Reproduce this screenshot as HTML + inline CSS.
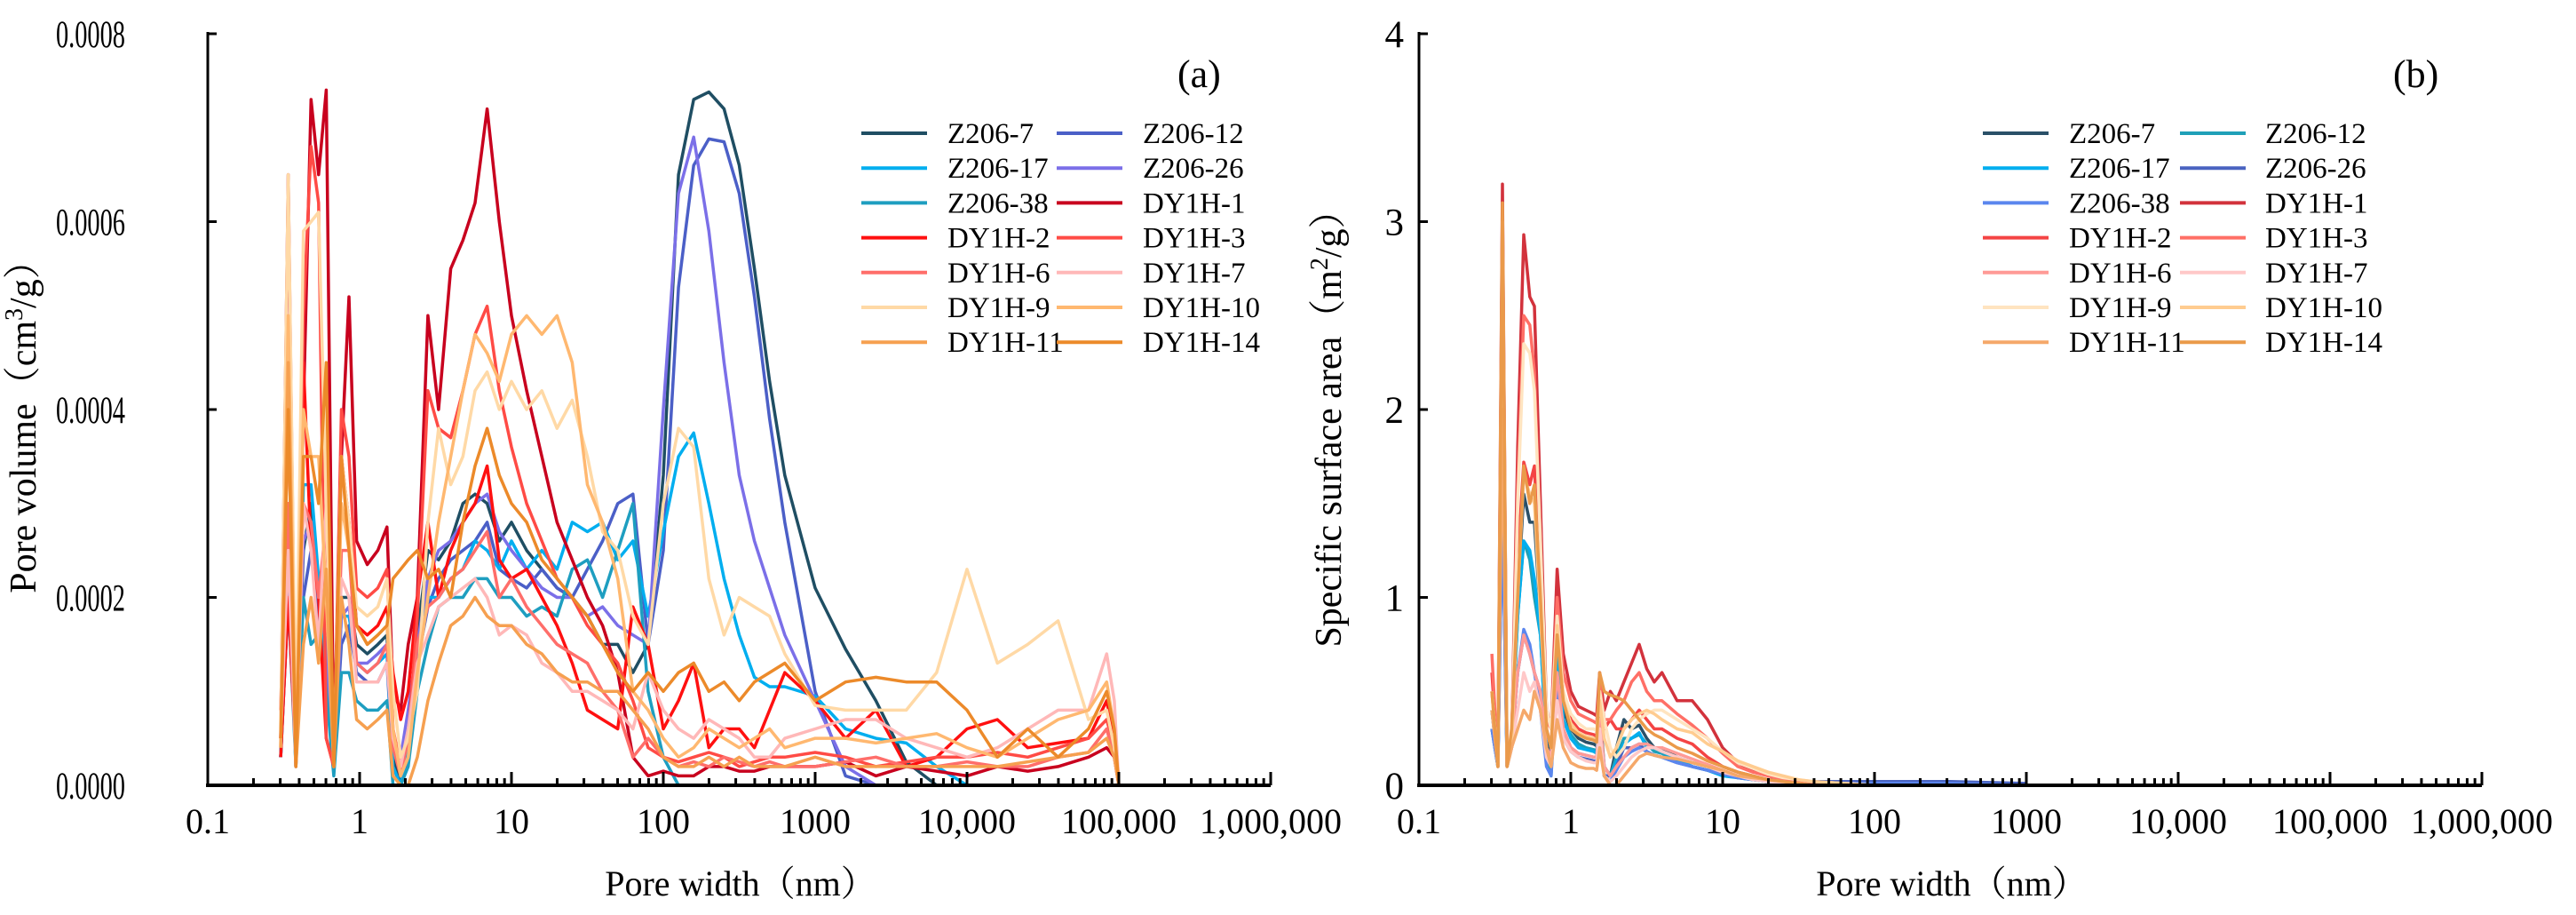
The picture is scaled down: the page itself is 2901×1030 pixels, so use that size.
<!DOCTYPE html>
<html><head><meta charset="utf-8"><style>
html,body{margin:0;padding:0;background:#fff;}
svg{display:block;}
text{font-family:"Liberation Serif","Noto Serif CJK SC",serif;fill:#000;}
</style></head><body>
<svg id="chart" width="2901" height="1030" viewBox="0 0 2901 1030" xmlns="http://www.w3.org/2000/svg">
<g id="panelA"></g>
<g id="panelB"></g>
</svg>
<script>
// ---------- shared data ----------
const seriesNames = ["Z206-7","Z206-12","Z206-17","Z206-26","Z206-38","DY1H-1","DY1H-2","DY1H-3","DY1H-6","DY1H-7","DY1H-9","DY1H-10","DY1H-11","DY1H-14"];
const xTickValues = [0.1,1,10,100,1000,10000,100000,1000000];
const xTickLabels = ["0.1","1","10","100","1000","10,000","100,000","1,000,000"];
const yTicksA = [0,0.0002,0.0004,0.0006,0.0008];
const yTickLabelsA = ["0.0000","0.0002","0.0004","0.0006","0.0008"];
const yTicksB = [0,1,2,3,4];
const yTickLabelsB = ["0","1","2","3","4"];

const colorsA = ["#1f4e63","#4b5fc7","#00aeef","#7b6fe8","#1e9ec0","#c8001e","#ff1010","#ff4b45","#ff6e6a","#ffb8b8","#ffd9a6","#ffb870","#f6a050","#ec8a2a"];
const colorsB = ["#2a5068","#1fa0b8","#00aeef","#4a63c0","#5b86ee","#d2323c","#f44444","#ff6f66","#ff9a96","#ffc8c8","#ffe4c0","#ffcc90","#f5a86a","#ea9a4a"];

// panel (a): x grid in log10(nm); values in 1e-4 cm3/g
const gridA = [-0.52,-0.47,-0.42,-0.37,-0.32,-0.27,-0.22,-0.17,-0.12,-0.07,-0.02,0.05,0.12,0.18,0.22,0.27,0.32,0.38,0.45,0.52,0.6,0.68,0.76,0.84,0.92,1.0,1.1,1.2,1.3,1.4,1.5,1.6,1.7,1.8,1.9,2.0,2.1,2.2,2.3,2.4,2.5,2.6,2.7,2.8,3.0,3.2,3.4,3.6,3.8,4.0,4.2,4.4,4.6,4.8,4.92,4.97,5.0];
const a_Z206_7 = [0.3,2.5,0.3,2.5,3.0,2.0,1.5,0.2,2.0,2.0,1.5,1.4,1.5,1.6,0.3,0,0.3,1.6,2.5,2.4,2.6,3.0,3.1,3.0,2.6,2.8,2.5,2.3,2.1,2.0,1.8,1.5,1.5,1.2,1.5,3.3,6.5,7.3,7.38,7.2,6.6,5.5,4.3,3.3,2.1,1.45,0.9,0.25,0,0,0,0,0,0,0,0,0];
const a_Z206_12 = [0.3,2.0,0.3,2.0,2.5,1.8,1.2,0.2,1.5,1.7,1.2,1.1,1.1,1.3,0.2,0,0.3,1.3,1.9,2.2,2.4,2.5,2.6,2.8,2.3,2.2,2.1,2.3,2.1,2.0,2.3,2.6,3.0,3.1,1.5,2.5,5.3,6.6,6.88,6.85,6.3,5.2,3.9,2.8,1.0,0.1,0,0,0,0,0,0,0,0,0,0,0];
const a_Z206_17 = [0.3,2.5,0.2,3.2,3.2,2.2,1.2,0.2,1.8,1.8,1.3,1.2,1.3,1.4,0.2,0,0.4,1.5,2.0,2.0,2.2,2.3,2.6,2.5,2.3,2.6,2.3,2.5,2.3,2.8,2.7,2.8,2.4,2.6,1.8,2.7,3.5,3.75,3.0,2.2,1.6,1.15,1.05,1.05,0.95,0.6,0.5,0.45,0.2,0,0,0,0,0,0,0,0];
const a_Z206_26 = [0.3,2.2,0.3,2.6,2.8,2.0,1.5,0.2,1.8,1.9,1.3,1.3,1.4,1.5,0.5,0.3,0.8,1.5,2.2,2.5,2.6,2.8,3.0,3.1,2.7,2.5,2.3,2.1,2.0,2.0,1.8,1.9,1.7,1.6,1.5,4.0,6.3,6.9,5.9,4.5,3.3,2.6,2.1,1.6,0.9,0.2,0,0,0,0,0,0,0,0,0,0,0];
const a_Z206_38 = [0.3,2.0,0.2,2.0,1.5,1.6,1.0,0.1,1.2,1.2,0.9,0.8,0.8,0.9,0,0,0.2,1.0,1.5,1.9,2.0,2.0,2.2,2.2,2.0,2.0,1.8,1.9,1.8,2.3,2.4,2.0,2.5,3.0,1.0,0.3,0,0,0,0,0,0,0,0,0,0,0,0,0,0,0,0,0,0,0,0,0];
const a_DY1H_1 = [0.5,6.5,0.2,4.0,7.3,6.5,7.4,0.3,3.5,5.2,2.6,2.35,2.5,2.75,1.0,0.8,1.5,2.0,5.0,4.0,5.5,5.8,6.2,7.2,6.0,5.0,4.2,3.5,2.8,2.4,2.0,1.7,1.2,0.3,0.1,0.15,0.1,0.1,0.2,0.2,0.15,0.15,0.2,0.2,0.2,0.25,0.1,0.2,0.15,0.1,0.2,0.15,0.2,0.3,0.4,0.3,0];
const a_DY1H_2 = [0.3,2.0,0.3,4.5,2.5,2.0,0.5,0.2,3.5,2.8,1.7,1.6,1.7,1.9,1.2,0.7,1.0,2.0,2.8,2.0,2.5,2.8,3.0,3.4,2.4,2.2,2.3,2.0,1.7,1.3,0.8,0.7,0.6,1.9,1.5,0.6,0.9,1.3,0.4,0.6,0.6,0.4,0.8,1.2,0.9,0.5,0.8,0.2,0.3,0.6,0.7,0.4,0.45,0.5,0.9,0.5,0];
const a_DY1H_3 = [0.8,4.0,0.3,5.0,6.8,6.2,0.5,0.2,4.0,3.5,2.1,2.0,2.1,2.3,0.6,0.2,0.5,1.8,4.2,3.8,3.7,4.2,4.8,5.1,4.2,3.6,3.0,2.6,2.2,2.0,1.7,1.5,1.3,0.9,0.4,0.3,0.25,0.3,0.35,0.3,0.2,0.25,0.3,0.3,0.35,0.3,0.2,0.25,0.3,0.3,0.35,0.3,0.4,0.5,0.7,0.4,0];
const a_DY1H_6 = [0.5,3.0,0.2,3.0,2.8,2.0,2.8,0.2,2.5,2.5,1.3,1.2,1.3,1.5,0.4,0.1,0.5,1.5,1.9,2.0,2.2,2.3,2.5,2.7,2.0,2.2,1.9,1.7,1.5,1.4,1.3,1.0,0.8,0.3,0.5,0.3,0.2,0.25,0.2,0.3,0.25,0.2,0.25,0.2,0.2,0.25,0.3,0.2,0.2,0.25,0.2,0.2,0.3,0.35,0.6,0.3,0];
const a_DY1H_7 = [0.5,2.5,0.2,3.0,2.5,1.5,3.0,0.3,2.2,2.0,1.1,1.1,1.1,1.3,0.5,0.2,0.6,1.3,1.6,1.9,2.0,2.1,2.2,2.0,1.6,1.7,1.6,1.3,1.2,1.0,1.0,0.9,0.8,0.6,1.2,0.8,0.6,0.5,0.7,0.6,0.5,0.3,0.3,0.5,0.6,0.7,0.7,0.5,0.4,0.3,0.4,0.6,0.8,0.8,1.4,0.9,0];
const a_DY1H_9 = [0.6,6.5,0.5,5.9,6.0,6.1,3.0,0.2,3.5,2.8,1.9,1.8,1.9,2.2,1.0,0.3,0.5,1.0,2.8,3.8,3.2,3.5,4.2,4.4,4.0,4.3,4.0,4.2,3.8,4.1,3.5,2.7,2.5,1.8,1.5,3.0,3.8,3.6,2.2,1.6,2.0,1.9,1.8,1.4,0.85,0.8,0.8,0.8,1.2,2.3,1.3,1.5,1.75,0.7,0.8,0.4,0];
const a_DY1H_10 = [0.4,5.0,0.3,4.0,3.5,3.5,2.0,0.2,3.0,2.5,1.7,1.5,1.6,1.7,0.6,0.1,0.3,1.2,2.0,2.8,3.5,4.2,4.8,4.6,4.3,4.8,5.0,4.8,5.0,4.5,3.2,2.8,2.2,1.0,0.8,0.5,0.3,0.4,0.6,0.5,0.4,0.5,0.6,0.4,0.5,0.5,0.45,0.5,0.55,0.4,0.3,0.5,0.7,0.8,1.1,0.6,0];
const a_DY1H_11 = [0.4,4.5,0.2,1.5,2.0,1.3,2.3,0.2,2.0,1.5,0.7,0.6,0.7,0.8,0.1,0,0,0.3,0.9,1.3,1.7,1.8,2.0,1.8,1.7,1.7,1.5,1.4,1.2,1.1,1.1,1.0,1.0,0.8,0.6,0.3,0.2,0.2,0.3,0.2,0.3,0.2,0.2,0.2,0.3,0.2,0.2,0.2,0.2,0.2,0.2,0.25,0.3,0.35,0.5,0.3,0];
const a_DY1H_14 = [0.5,4.0,0.2,3.5,3.5,3.0,4.5,0.2,3.5,2.5,1.7,1.5,1.6,1.7,2.2,2.3,2.4,2.5,2.2,2.3,2.0,2.8,3.4,3.8,3.3,3.0,2.8,2.4,2.2,2.0,1.8,1.5,1.2,1.0,1.2,1.0,1.2,1.3,1.0,1.1,0.9,1.1,1.2,1.3,0.9,1.1,1.15,1.1,1.1,0.8,0.3,0.6,0.3,0.6,1.0,0.6,0];
const valuesA = [a_Z206_7,a_Z206_12,a_Z206_17,a_Z206_26,a_Z206_38,a_DY1H_1,a_DY1H_2,a_DY1H_3,a_DY1H_6,a_DY1H_7,a_DY1H_9,a_DY1H_10,a_DY1H_11,a_DY1H_14];

// panel (b): x grid in log10(nm); values in m2/g
const gridB = [-0.52,-0.48,-0.45,-0.42,-0.39,-0.35,-0.31,-0.27,-0.24,-0.2,-0.16,-0.13,-0.09,-0.05,0,0.05,0.1,0.15,0.17,0.19,0.22,0.26,0.3,0.35,0.4,0.45,0.5,0.55,0.6,0.7,0.8,0.9,1.0,1.1,1.2,1.3,1.4,1.5,1.6,1.8,2.0,2.5,3.0];
const b_Z206_7 = [0.4,0.1,2.0,0.1,0.2,1.0,1.55,1.4,1.4,0.9,0.25,0.1,0.75,0.4,0.3,0.25,0.23,0.22,0.21,0.4,0.1,0.05,0.2,0.35,0.3,0.32,0.25,0.2,0.2,0.15,0.12,0.1,0.07,0.05,0.03,0.02,0.01,0,0,0,0,0,0];
const b_Z206_12 = [0.4,0.1,1.9,0.1,0.2,0.9,1.3,1.2,1.0,0.8,0.2,0.05,0.7,0.35,0.27,0.22,0.2,0.19,0.18,0.35,0.05,0.05,0.15,0.25,0.25,0.27,0.22,0.18,0.17,0.13,0.1,0.08,0.06,0.04,0.03,0.02,0.01,0,0,0,0,0,0];
const b_Z206_17 = [0.3,0.1,1.8,0.1,0.2,0.9,1.3,1.25,1.1,0.8,0.2,0.1,0.7,0.35,0.25,0.2,0.19,0.18,0.17,0.35,0.05,0.05,0.12,0.22,0.25,0.28,0.2,0.2,0.18,0.14,0.1,0.08,0.05,0.04,0.03,0.02,0.01,0.01,0.01,0.01,0.01,0,0];
const b_Z206_26 = [0.3,0.1,1.5,0.1,0.2,0.6,0.8,0.7,0.6,0.5,0.15,0.1,0.5,0.25,0.18,0.15,0.14,0.13,0.13,0.3,0.05,0.05,0.1,0.2,0.2,0.22,0.18,0.16,0.15,0.12,0.1,0.08,0.06,0.05,0.04,0.03,0.03,0.02,0.02,0.02,0.02,0.02,0.01];
const b_Z206_38 = [0.3,0.1,1.5,0.1,0.2,0.6,0.83,0.75,0.6,0.4,0.1,0.05,0.55,0.3,0.2,0.17,0.16,0.15,0.15,0.35,0.05,0.02,0.08,0.15,0.18,0.2,0.18,0.16,0.15,0.12,0.1,0.08,0.06,0.04,0.03,0.02,0.02,0.01,0.01,0.01,0.01,0.01,0];
const b_DY1H_1 = [0.5,0.2,3.2,0.1,0.2,1.8,2.93,2.6,2.55,1.5,0.4,0.3,1.15,0.7,0.5,0.42,0.4,0.38,0.37,0.6,0.4,0.5,0.45,0.55,0.65,0.75,0.62,0.55,0.6,0.45,0.45,0.35,0.2,0.12,0.08,0.05,0.03,0.02,0.01,0,0,0,0];
const b_DY1H_2 = [0.6,0.1,2.9,0.1,0.2,1.2,1.72,1.6,1.7,1.0,0.3,0.2,0.85,0.5,0.35,0.3,0.28,0.27,0.26,0.5,0.3,0.35,0.3,0.3,0.35,0.4,0.35,0.3,0.3,0.25,0.22,0.15,0.1,0.07,0.05,0.03,0.02,0.01,0,0,0,0,0];
const b_DY1H_3 = [0.7,0.1,3.0,0.1,0.2,1.6,2.5,2.45,2.2,1.3,0.35,0.3,1.0,0.6,0.45,0.38,0.36,0.34,0.33,0.55,0.35,0.35,0.4,0.45,0.55,0.6,0.5,0.45,0.45,0.38,0.32,0.25,0.17,0.1,0.07,0.05,0.03,0.02,0.01,0,0,0,0];
const b_DY1H_6 = [0.5,0.1,2.7,0.1,0.2,0.6,0.8,0.7,0.6,0.5,0.2,0.15,0.6,0.3,0.2,0.17,0.16,0.15,0.15,0.35,0.1,0.05,0.1,0.15,0.2,0.22,0.22,0.2,0.2,0.17,0.14,0.11,0.08,0.05,0.04,0.03,0.02,0.01,0,0,0,0,0];
const b_DY1H_7 = [0.4,0.1,2.2,0.1,0.2,0.4,0.6,0.5,0.55,0.4,0.15,0.1,0.45,0.25,0.18,0.15,0.13,0.12,0.12,0.3,0.05,0.02,0.05,0.1,0.15,0.18,0.2,0.2,0.18,0.15,0.12,0.1,0.07,0.05,0.03,0.02,0.01,0,0,0,0,0,0];
const b_DY1H_9 = [0.5,0.1,3.0,0.1,0.2,1.5,2.35,2.3,2.1,1.3,0.4,0.3,0.9,0.5,0.38,0.33,0.3,0.3,0.29,0.5,0.35,0.2,0.15,0.2,0.3,0.35,0.38,0.4,0.4,0.35,0.3,0.25,0.18,0.12,0.09,0.06,0.04,0.03,0.02,0.01,0,0,0];
const b_DY1H_10 = [0.5,0.1,2.9,0.1,0.2,1.0,1.65,1.55,1.5,0.9,0.3,0.2,0.85,0.45,0.33,0.28,0.26,0.25,0.24,0.45,0.25,0.15,0.2,0.3,0.35,0.38,0.4,0.38,0.35,0.3,0.28,0.22,0.18,0.13,0.1,0.07,0.05,0.03,0.02,0.01,0,0,0];
const b_DY1H_11 = [0.4,0.1,2.0,0.1,0.2,0.3,0.4,0.35,0.5,0.4,0.2,0.1,0.35,0.2,0.12,0.1,0.09,0.09,0.08,0.2,0.05,0,0,0.05,0.1,0.15,0.17,0.16,0.15,0.14,0.12,0.1,0.08,0.05,0.04,0.03,0.02,0.01,0,0,0,0,0];
const b_DY1H_14 = [0.5,0.1,3.1,0.1,0.3,1.0,1.7,1.5,1.6,1.0,0.3,0.2,0.8,0.45,0.3,0.27,0.25,0.24,0.23,0.6,0.5,0.48,0.47,0.45,0.4,0.35,0.3,0.27,0.25,0.2,0.17,0.13,0.1,0.07,0.05,0.03,0.02,0.01,0,0,0,0,0];
const valuesB = [b_Z206_7,b_Z206_12,b_Z206_17,b_Z206_26,b_Z206_38,b_DY1H_1,b_DY1H_2,b_DY1H_3,b_DY1H_6,b_DY1H_7,b_DY1H_9,b_DY1H_10,b_DY1H_11,b_DY1H_14];

const legendOrderA = ["Z206-7","Z206-12","Z206-17","Z206-26","Z206-38","DY1H-1","DY1H-2","DY1H-3","DY1H-6","DY1H-7","DY1H-9","DY1H-10","DY1H-11","DY1H-14"];
const legendOrderB = ["Z206-7","Z206-12","Z206-17","Z206-26","Z206-38","DY1H-1","DY1H-2","DY1H-3","DY1H-6","DY1H-7","DY1H-9","DY1H-10","DY1H-11","DY1H-14"];

// ---------- drawing ----------
const NS = "http://www.w3.org/2000/svg";
function mk(tag, attrs, parent){
  const e = document.createElementNS(NS, tag);
  for (const k in attrs) e.setAttribute(k, attrs[k]);
  if (parent) parent.appendChild(e);
  return e;
}

function drawPanel(g, cfg){
  const L = cfg.left, R = cfg.left + 171*7, T = 38, B = 884;
  const xs = lg => L + 171*(lg + 1);
  const ys = v => B - v / cfg.yMax * (B - T);

  const sg = mk("g", {}, g);
  
  
  for (let s = 0; s < seriesNames.length; s++){
    const vals = cfg.values[s];
    let d = "";
    for (let i = 0; i < cfg.grid.length; i++){
      d += (i ? "L" : "M") + xs(cfg.grid[i]).toFixed(1) + "," + ys(vals[i]*cfg.unit).toFixed(1);
    }
    const p = mk("path", {d: d, fill: "none", stroke: cfg.colors[s], "stroke-width": 3.5, "stroke-linejoin": "round"}, sg);
    
    
  }

  const yAx = mk("line", {x1: L, y1: T - 2, x2: L, y2: B + 2, stroke: "#000", "stroke-width": 3}, g);
  
  
  const xAx = mk("line", {x1: L - 2, y1: B, x2: R, y2: B, stroke: "#000", "stroke-width": 4}, g);
  
  

  for (let k = 0; k < xTickValues.length; k++){
    const lg = Math.log10(xTickValues[k]);
    const x = xs(lg);
    if (k > 0) mk("line", {x1: x, y1: B, x2: x, y2: B - 15, stroke: "#000", "stroke-width": 3}, g);
    const t = mk("text", {x: x, y: 938, "font-size": 40, "text-anchor": "middle"}, g);
    t.textContent = xTickLabels[k];
    
    
    if (k < xTickValues.length - 1){
      for (let m = 2; m <= 9; m++){
        const xm = xs(lg + Math.log10(m));
        mk("line", {x1: xm, y1: B, x2: xm, y2: B - 8, stroke: "#000", "stroke-width": 3}, g);
      }
    }
  }
  for (let k = 0; k < cfg.yTicks.length; k++){
    const y = ys(cfg.yTicks[k]);
    mk("line", {x1: L, y1: y, x2: L + 10, y2: y, stroke: "#000", "stroke-width": 3}, g);
    const attrs = {x: 0, y: 0, "font-size": 43, "text-anchor": "end",
      transform: "translate(" + cfg.yLabelRight + "," + (y + 15) + ") scale(" + cfg.yLabelScale + ",1)"};
    const t = mk("text", attrs, g);
    t.textContent = cfg.yTickLabels[k];
    
    
  }
  const xt = mk("text", {x: L + 600, y: 1008, "font-size": 40, "text-anchor": "middle"}, g);
  xt.textContent = "Pore width（nm）";
  
  
  const yt = mk("text", {x: 0, y: 0, "font-size": 42, "text-anchor": "middle", transform: "translate(" + cfg.yTitleX + "," + cfg.yTitleY + ") rotate(-90)"}, g);
  yt.innerHTML = cfg.yTitle;
  
  

  const tag = mk("text", {x: cfg.tagX, y: 98, "font-size": 44, "font-family": "Liberation Sans, sans-serif"}, g);
  tag.textContent = cfg.tag;
  
  

  const lgG = mk("g", {}, g);
  
  
  for (let i = 0; i < cfg.legendOrder.length; i++){
    const col = i % 2, row = Math.floor(i / 2);
    const s = seriesNames.indexOf(cfg.legendOrder[i]);
    const lx = cfg.legX[col], ly = 150 + row * 39.2;
    const ent = mk("g", {}, lgG);
    
    
    mk("line", {x1: lx, y1: ly, x2: lx + 74, y2: ly, stroke: cfg.colors[s], "stroke-width": 4}, ent);
    const t = mk("text", {x: cfg.legTextX[col], y: ly + 11, "font-size": 33}, ent);
    t.textContent = cfg.legendOrder[i];
  }
}

drawPanel(document.getElementById("panelA"), {
  left: 234, grid: gridA, values: valuesA, unit: 1e-4, yMax: 0.0008, colors: colorsA,
  yTicks: yTicksA, yTickLabels: yTickLabelsA, yLabelRight: 141, yLabelScale: 0.66,
  yTitle: 'Pore volume（cm<tspan baseline-shift="super" font-size="28">3</tspan>/g）', yTitleX: 40, yTitleY: 470,
  tag: "(a)", tagX: 1326, legendOrder: legendOrderA, legX: [970, 1190], legTextX: [1067, 1287]
});
drawPanel(document.getElementById("panelB"), {
  left: 1598, grid: gridB, values: valuesB, unit: 1, yMax: 4, colors: colorsB,
  yTicks: yTicksB, yTickLabels: yTickLabelsB, yLabelRight: 1581, yLabelScale: 1,
  yTitle: 'Specific surface area（m<tspan baseline-shift="super" font-size="28">2</tspan>/g）', yTitleX: 1510, yTitleY: 472,
  tag: "(b)", tagX: 2695, legendOrder: legendOrderB, legX: [2233, 2455], legTextX: [2330, 2551]
});
</script>
</body></html>
